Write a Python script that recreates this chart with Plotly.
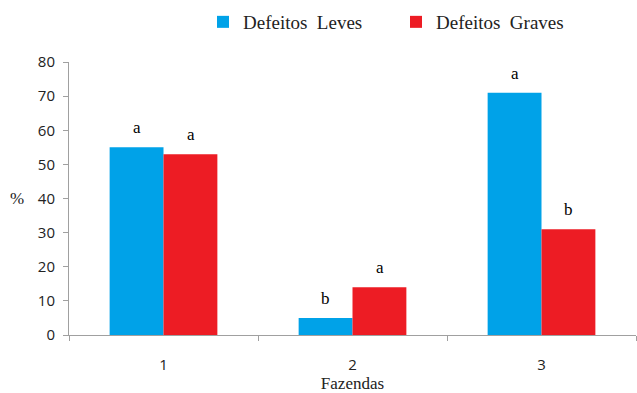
import plotly.graph_objects as go

categories = ["1", "2", "3"]
leves = [55, 5, 71]
graves = [53, 14, 31]
leves_letters = ["a", "b", "a"]
graves_letters = ["a", "a", "b"]
y_ticks = [0, 10, 20, 30, 40, 50, 60, 70, 80]

serif = "Liberation Serif, Times New Roman, serif"
sans = "Open Sans, Liberation Sans, sans-serif"
BLUE = "#00A2E8"
RED = "#ED1C24"

fig = go.Figure()
fig.add_trace(go.Bar(
    x=categories, y=leves, name="Defeitos\u00a0\u00a0Leves",
    marker=dict(color=BLUE, line=dict(width=0)),
))
fig.add_trace(go.Bar(
    x=categories, y=graves, name="Defeitos\u00a0\u00a0Graves",
    marker=dict(color=RED, line=dict(width=0)),
))

# significance letters above bars (x given as category index)
half_bar_px = 27
for i, (v, t) in enumerate(zip(leves, leves_letters)):
    fig.add_annotation(x=i, y=v, text=t, showarrow=False, xshift=-half_bar_px,
                       yanchor="bottom", yshift=8,
                       font=dict(family=serif, size=17, color="#000"))
for i, (v, t) in enumerate(zip(graves, graves_letters)):
    fig.add_annotation(x=i, y=v, text=t, showarrow=False, xshift=half_bar_px,
                       yanchor="bottom", yshift=8,
                       font=dict(family=serif, size=17, color="#000"))

# horizontal y-axis label
fig.add_annotation(x=-52 / 567, y=40, xref="paper", yref="y", text="%", showarrow=False,
                   xanchor="center", yanchor="middle",
                   font=dict(family=serif, size=17, color="#222"))

fig.update_layout(
    width=637, height=393,
    margin=dict(l=69, r=1, t=62, b=58, autoexpand=False),
    paper_bgcolor="white", plot_bgcolor="white",
    barmode="group", bargap=0.43, bargroupgap=0,
    showlegend=True,
    legend=dict(orientation="h", xref="container", yref="container",
                x=203 / 637, y=1 - 22 / 393, xanchor="left", yanchor="middle",
                font=dict(family=serif, size=19, color="#222"),
                itemwidth=30, entrywidthmode="pixels", entrywidth=148,
                bgcolor="rgba(0,0,0,0)"),
    xaxis=dict(
        type="category", categoryorder="array", categoryarray=categories,
        showline=True, linecolor="#A0A0A0", linewidth=1,
        ticks="outside", tickson="boundaries", ticklen=5, tickcolor="#A0A0A0",
        tickfont=dict(family=sans, size=15, color="#222"), ticklabelstandoff=16,
        title=dict(text="Fazendas", font=dict(family=serif, size=17, color="#222"), standoff=2),
        showgrid=False, zeroline=False,
    ),
    yaxis=dict(
        range=[0, 80], tickvals=y_ticks, showline=True, linecolor="#A0A0A0", linewidth=1,
        ticks="outside", ticklen=5, tickcolor="#A0A0A0", ticklabelstandoff=5,
        tickfont=dict(family=sans, size=15, color="#222"),
        showgrid=False, zeroline=False,
    ),
    font=dict(family=serif),
)

fig.write_html("out.html", config={"displayModeBar": False},
               post_script="document.body.style.margin='0';")
